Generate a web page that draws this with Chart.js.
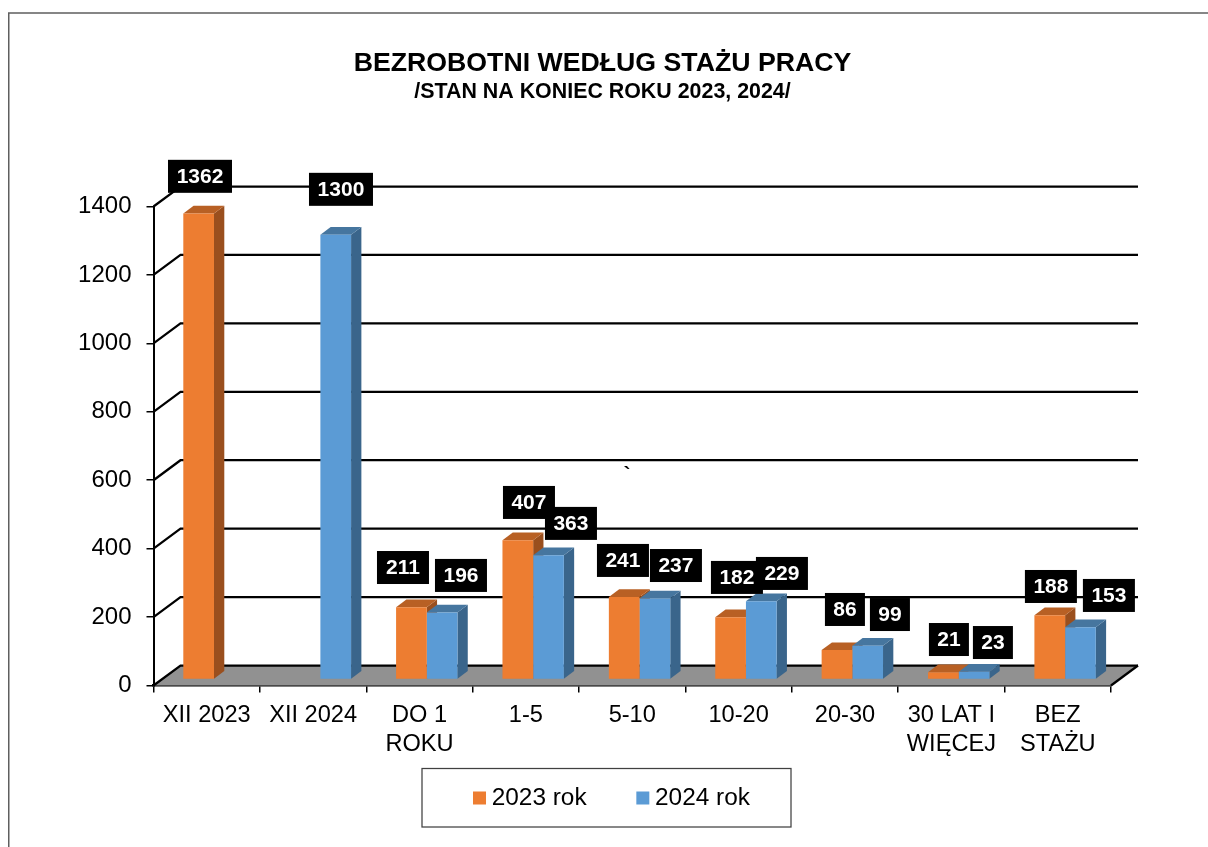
<!DOCTYPE html>
<html>
<head>
<meta charset="utf-8">
<style>html,body{margin:0;padding:0;background:#fff;overflow:hidden}canvas{display:block}</style>
<script src="https://cdn.jsdelivr.net/npm/chart.js@4/dist/chart.umd.min.js"></script>
</head>
<body>
<canvas id="c" width="1208" height="847"></canvas>
<script>
const categories = ['XII 2023','XII 2024',['DO 1','ROKU'],'1-5','5-10','10-20','20-30',['30 LAT I','WIĘCEJ'],['BEZ','STAŻU']];
const values2023 = [1362,null,211,407,241,182,86,21,188];
const values2024 = [null,1300,196,363,237,229,99,23,153];
const seriesNames = ['2023 rok','2024 rok'];
const titleText = 'BEZROBOTNI WEDŁUG STAŻU PRACY';
const subtitleText = '/STAN NA KONIEC ROKU 2023, 2024/';
const yTicks = {min:0,max:1400,step:200};

const FONT = '"Liberation Sans", Arial, sans-serif';
const ORANGE = {front:'#ED7D31',side:'#9A4F1E',top:'#B86024'};
const BLUE = {front:'#5B9BD5',side:'#3A658B',top:'#46769F'};
const WALL = {dx:27,dy:-20};
const BAR = {dx:7.3,dy:-6,depthX:10.3,depthY:-7.7};
const AREA = {left:153.5,right:1111,top:206.5,bottom:685.5};
const LEGEND_BOX = {left:422,top:768.5,right:791,bottom:827};
// Manual placement of the value labels relative to the top-centre of each bar
const nudges = [
  [[1.35,-37.2],null,[-8.45,-39.8],[11.15,-37.8],[-1.25,-36.6],[6.35,-39.8],[7.95,-40.6],[5.55,-32.8],[1.15,-28.7]],
  [null,[5.25,-45.4],[18.85,-37],[22.45,-31.9],[21.05,-32.9],[20.65,-27.7],[22.25,-31.1],[18.85,-29.1],[28.45,-31.7]]
];
const palette = [ORANGE,BLUE];

function poly(ctx,pts,fill){
  ctx.beginPath();
  pts.forEach((p,i)=>i?ctx.lineTo(p[0],p[1]):ctx.moveTo(p[0],p[1]));
  ctx.closePath();ctx.fillStyle=fill;ctx.fill();
}

const scene = {
  id:'scene',
  afterLayout(chart){
    chart.boxes.forEach(b=>{
      if(b.options && b.options.text!==undefined && b.options.font && !b.getTicks){
        b.left=0;b.right=1205;
      }
    });
    const lg=chart.legend;
    lg.left=423.3;lg.right=830;lg.top=729.5;lg.bottom=lg.top+lg.height;
  },
  beforeDraw(chart){
    const ctx=chart.ctx;
    ctx.save();
    ctx.fillStyle='#fff';ctx.fillRect(0,0,1208,847);
    ctx.strokeStyle='#5f5f5f';ctx.lineWidth=1.5;
    ctx.beginPath();ctx.moveTo(8.75,847);ctx.lineTo(8.75,13);ctx.lineTo(1208,13);ctx.stroke();
    ctx.restore();
  },
  beforeDatasetsDraw(chart){
    const ctx=chart.ctx,y=chart.scales.y,a=chart.chartArea;
    ctx.save();
    const y0=y.getPixelForValue(0);
    poly(ctx,[[a.left,y0],[a.left+WALL.dx,y0+WALL.dy],[a.right+WALL.dx,y0+WALL.dy],[a.right,y0]],'#919191');
    ctx.strokeStyle='#000';ctx.lineWidth=2.25;
    y.ticks.forEach(t=>{
      const p=y.getPixelForValue(t.value);
      ctx.beginPath();ctx.moveTo(a.left,p);ctx.lineTo(a.left+WALL.dx,p+WALL.dy);
      ctx.lineTo(a.right+WALL.dx,p+WALL.dy);ctx.stroke();
    });
    ctx.beginPath();ctx.moveTo(a.right,y0);ctx.lineTo(a.right+WALL.dx,y0+WALL.dy);ctx.stroke();
    ctx.restore();
    ctx.save();
    ctx.translate(BAR.dx,BAR.dy);
    [0,1].forEach(d=>{
      chart.getDatasetMeta(d).data.forEach((el,i)=>{
        if(chart.data.datasets[d].data[i]==null)return;
        const l=el.x-el.width/2,r=el.x+el.width/2,t=el.y,b=el.base,X=BAR.depthX,Y=BAR.depthY;
        poly(ctx,[[r,t],[r+X,t+Y],[r+X,b+Y],[r,b]],palette[d].side);
        poly(ctx,[[l,t],[l+X,t+Y],[r+X,t+Y],[r,t]],palette[d].top);
      });
    });
    ctx.restore();
    ctx.save();
    ctx.translate(BAR.dx,BAR.dy);
  },
  afterDatasetsDraw(chart){
    const ctx=chart.ctx;
    ctx.restore();
    ctx.save();
    ctx.font='bold 21px '+FONT;ctx.textAlign='center';ctx.textBaseline='middle';
    [0,1].forEach(d=>{
      chart.getDatasetMeta(d).data.forEach((el,i)=>{
        const v=chart.data.datasets[d].data[i];
        if(v==null)return;
        const s=String(v),n=nudges[d][i];
        const w=s.length===4?64:(s.length===3?52:40),h=33;
        const cx=el.x+BAR.dx+n[0],cy=el.y+BAR.dy+n[1];
        ctx.fillStyle='#000';ctx.fillRect(cx-w/2,cy-h/2,w,h);
        ctx.fillStyle='#fff';ctx.fillText(s,cx,cy+1);
      });
    });
    ctx.fillStyle='#000';ctx.font='bold 20px '+FONT;
    ctx.fillText('`',627,475);
    ctx.restore();
  },
  afterDraw(chart){
    const ctx=chart.ctx,b=LEGEND_BOX;
    ctx.save();ctx.strokeStyle='#404040';ctx.lineWidth=1.25;
    ctx.strokeRect(b.left,b.top,b.right-b.left,b.bottom-b.top);ctx.restore();
  }
};

new Chart(document.getElementById('c'),{
  type:'bar',
  data:{labels:categories,datasets:[
    {label:seriesNames[0],data:values2023,backgroundColor:ORANGE.front,borderWidth:0,categoryPercentage:0.577,barPercentage:1},
    {label:seriesNames[1],data:values2024,backgroundColor:BLUE.front,borderWidth:0,categoryPercentage:0.577,barPercentage:1}
  ]},
  plugins:[scene],
  options:{
    responsive:false,animation:false,events:[],
    layout:{padding:{left:0,right:1208-AREA.right,top:0,bottom:0}},
    plugins:{
      tooltip:{enabled:false},
      title:{display:true,text:titleText,color:'#000',font:{family:FONT,size:26.7,weight:'bold',lineHeight:1.2},padding:{top:47.5,bottom:0}},
      subtitle:{display:true,text:subtitleText,color:'#000',font:{family:FONT,size:21.4,weight:'bold',lineHeight:1.2},padding:{top:0,bottom:101.3}},
      legend:{display:true,position:'bottom',align:'start',
        labels:{color:'#000',font:{family:FONT,size:24.4},usePointStyle:true,pointStyle:'rect',boxHeight:13,boxWidth:0.01,padding:56.2}}
    },
    scales:{
      x:{
        grid:{offset:true,drawOnChartArea:false,drawTicks:true,tickLength:7,color:'#000',lineWidth:1.5},
        border:{display:true,color:'#000',width:2.5},
        ticks:{color:'#000',font:{family:FONT,size:23.6,lineHeight:1.21},padding:9,maxRotation:0,minRotation:0,autoSkip:false},
        afterFit(s){s.height=847-AREA.bottom-(s.chart.legend?s.chart.legend.height:0);}
      },
      y:{
        min:yTicks.min,max:yTicks.max,
        grid:{drawOnChartArea:false,drawTicks:true,tickLength:7,color:'#000',lineWidth:1.5},
        border:{display:true,color:'#000',width:2},
        ticks:{stepSize:yTicks.step,color:'#000',font:{family:FONT,size:24},padding:15,callback:v=>String(v)},
        afterFit(s){s.width=AREA.left;}
      }
    }
  }
});
</script>
</body>
</html>
